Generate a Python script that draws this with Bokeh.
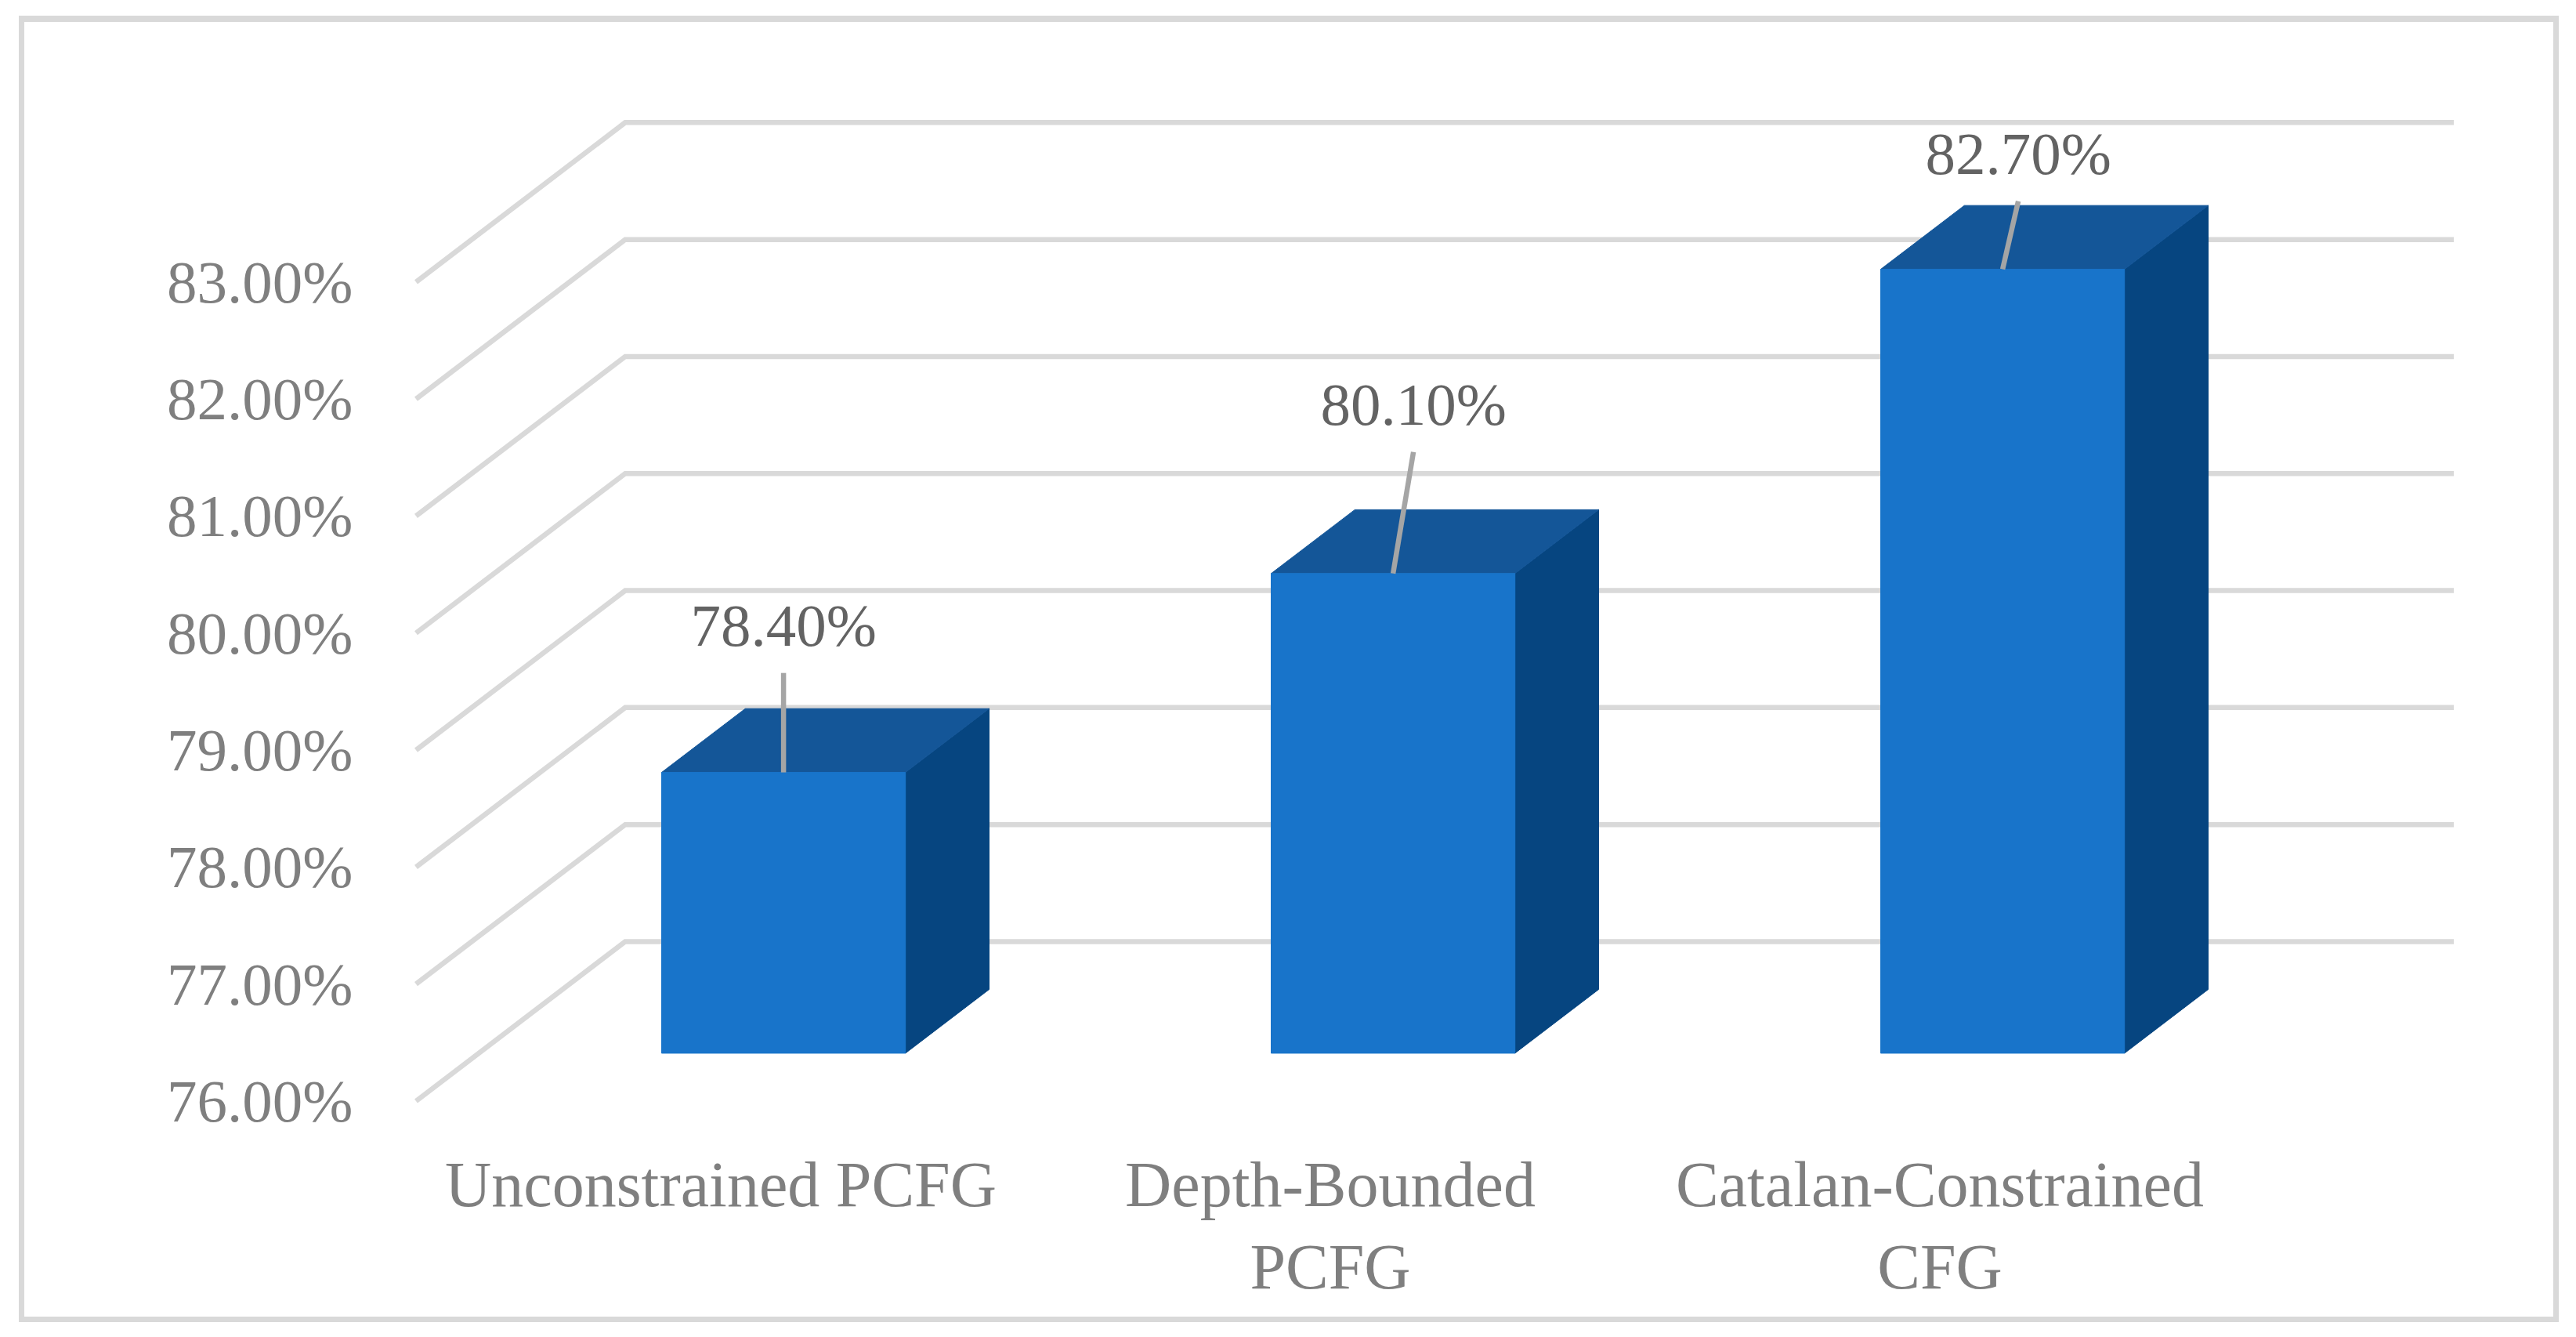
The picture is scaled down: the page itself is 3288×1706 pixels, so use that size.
from bokeh.plotting import figure
from bokeh.models import Range1d, FixedTicker, PrintfTickFormatter
from bokeh.core.properties import value
from bokeh.embed import file_html
from bokeh.resources import INLINE

# ---- data ----
categories = ["Unconstrained PCFG", "Depth-Bounded\nPCFG", "Catalan-Constrained\nCFG"]
values = [78.40, 80.10, 82.70]
y_ticks = [76, 77, 78, 79, 80, 81, 82, 83]

# ---- style / geometry constants ----
FONT = "Liberation Serif"
DX, DY = 0.3432, 1.363          # full depth offset of the 3D box (data units)
F0, BD, BW = 0.30, 0.40, 0.40   # bar front depth fraction, bar depth fraction, bar width
LABEL_DX = [0.0, 0.0334, 0.0257]
LABEL_DY = [1.259, 1.447, 0.991]
LEADER_GAP = 0.409
FRONT_C, TOP_C, SIDE_C = "#1874CA", "#145698", "#064580"
GRID_C = "#d9d9d9"

n = len(categories)
xc = [i + 0.5 for i in range(n)]
floor = y_ticks[0]

p = figure(width=3272, height=1690,
           x_range=Range1d(-0.06748, 3.4312), y_range=Range1d(75.762, 85.005),
           output_backend="svg", toolbar_location=None,
           min_border_left=478, min_border_right=72, min_border_top=60, min_border_bottom=250)
p.outline_line_color = None
p.background_fill_color = "white"
p.border_fill_color = None
p.xgrid.visible = False
p.ygrid.visible = False

# outer light-grey frame of the chart area (CSS background lines)
g = "linear-gradient(%s,%s)" % (GRID_C, GRID_C)
p.styles = {
    "background-color": "white",
    "background-image": ",".join([g] * 4),
    "background-repeat": "no-repeat",
    "background-position": "24px 20px, 3259px 20px, 24px 20px, 24px 1680px",
    "background-size": "7px 1667px, 7px 1667px, 3242px 8px, 3242px 7px",
}

# ---- 3D gridlines (wall) ----
gx, gy = [], []
for t in y_ticks:
    gx.append([0, DX, n + DX])
    gy.append([t, t + DY, t + DY])
p.multi_line(gx, gy, line_color=GRID_C, line_width=6.5, line_join="miter")

# ---- bars ----
fx0 = [c - BW / 2 + F0 * DX for c in xc]
fx1 = [c + BW / 2 + F0 * DX for c in xc]
fy0 = [floor + F0 * DY for _ in xc]
fy1 = [v + F0 * DY for v in values]
ox, oy = BD * DX, BD * DY

side_xs = [[a, a + ox, a + ox, a] for a in fx1]
side_ys = [[b0, b0 + oy, b1 + oy, b1] for b0, b1 in zip(fy0, fy1)]
top_xs = [[a, b, b + ox, a + ox] for a, b in zip(fx0, fx1)]
top_ys = [[t, t, t + oy, t + oy] for t in fy1]

p.patches(side_xs, side_ys, fill_color=SIDE_C, line_color=SIDE_C, line_width=1)
p.patches(top_xs, top_ys, fill_color=TOP_C, line_color=TOP_C, line_width=1)
p.quad(left=fx0, right=fx1, bottom=fy0, top=fy1, fill_color=FRONT_C, line_color=FRONT_C, line_width=1)

# ---- data labels with leader lines ----
mid = [(a + b) / 2 for a, b in zip(fx0, fx1)]
lx = [m + d for m, d in zip(mid, LABEL_DX)]
ly = [t + d for t, d in zip(fy1, LABEL_DY)]
p.segment(x0=mid, y0=fy1, x1=lx, y1=[y - LEADER_GAP for y in ly],
          line_color="#a5a5a5", line_width=6.5)
p.text(x=lx, y=ly, text=["%.2f%%" % v for v in values],
       text_font=value(FONT), text_font_size="77px", text_color="#636363",
       text_align="center", text_baseline="middle")

# ---- axes ----
ya = p.yaxis[0]
ya.ticker = FixedTicker(ticks=y_ticks)
ya.formatter = PrintfTickFormatter(format="%.2f%%")
ya.axis_line_color = None
ya.major_tick_line_color = None
ya.minor_tick_line_color = None
ya.major_tick_out = 0
ya.major_label_standoff = 28
ya.major_label_text_font = FONT
ya.major_label_text_font_size = "77px"
ya.major_label_text_color = "#7f7f7f"

xa = p.xaxis[0]
xa.ticker = FixedTicker(ticks=xc)
xa.major_label_overrides = {x: c for x, c in zip(xc, categories)}
xa.axis_line_color = None
xa.major_tick_line_color = None
xa.minor_tick_line_color = None
xa.major_tick_out = 0
xa.major_label_standoff = 25
xa.major_label_text_font = FONT
xa.major_label_text_font_size = "82px"
xa.major_label_text_color = "#7f7f7f"
xa.major_label_text_line_height = 1.16

open("out.html", "w").write(file_html(p, INLINE))
